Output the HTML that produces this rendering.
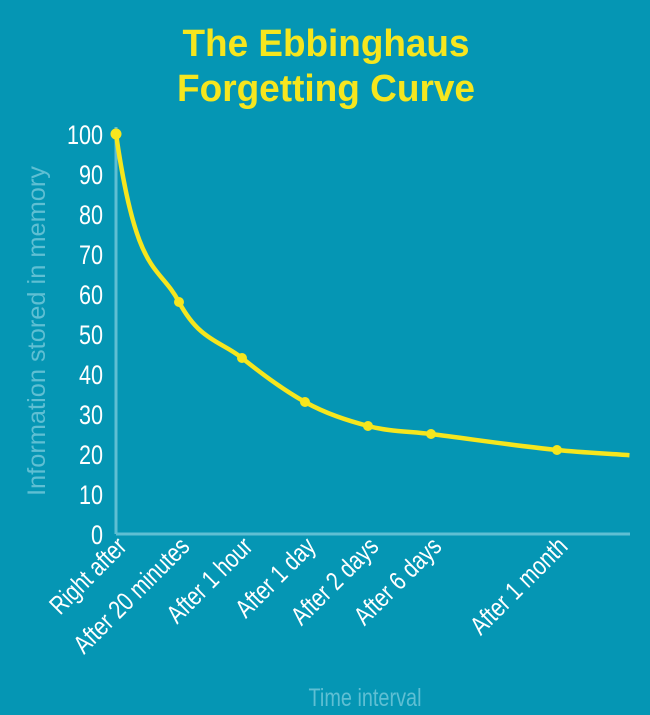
<!DOCTYPE html>
<html><head><meta charset="utf-8"><style>
html,body{margin:0;padding:0;background:#0596b4;}
svg{display:block;font-family:"Liberation Sans",sans-serif;}
</style></head><body>
<svg id="chart" width="650" height="715" viewBox="0 0 650 715">
<rect width="650" height="715" fill="#0596b4"/>
<text x="326" y="56" text-anchor="middle" font-size="38" font-weight="bold" fill="#f6e61e" textLength="287" lengthAdjust="spacingAndGlyphs">The Ebbinghaus</text>
<text x="326" y="101" text-anchor="middle" font-size="38" font-weight="bold" fill="#f6e61e" textLength="298" lengthAdjust="spacingAndGlyphs">Forgetting Curve</text>
<text transform="translate(45,331) rotate(-90)" text-anchor="middle" font-size="25" fill="#5fbfd3" textLength="330" lengthAdjust="spacingAndGlyphs">Information stored in memory</text>
<text x="365" y="706" text-anchor="middle" font-size="25" fill="#5fbfd3" textLength="113" lengthAdjust="spacingAndGlyphs">Time interval</text>
<g id="axes"></g>
<g id="marks"></g>
</svg>
<script>
const categories = ["Right after","After 20 minutes","After 1 hour","After 1 day","After 2 days","After 6 days","After 1 month"];
const positions = [0,1,2,3,4,5,7];
const values = [100,58,44,33,27,25,21];
const tailPosition = 8.15;
const tailValue = 19.7;
const yTicks = [0,10,20,30,40,50,60,70,80,90,100];

const NS="http://www.w3.org/2000/svg";
function xs(p){return 116+p*63.0;}
function ys(v){return 534-4.0*v;}
function mk(tag,attrs,parent){const e=document.createElementNS(NS,tag);for(const k in attrs)e.setAttribute(k,attrs[k]);parent.appendChild(e);return e;}
const axes=document.getElementById('axes'), marks=document.getElementById('marks');

const yAxis=mk('line',{x1:116,y1:127,x2:116,y2:534,stroke:'#5fbfd3','stroke-width':3},axes);


const xAxis=mk('line',{x1:116,y1:534,x2:630,y2:534,stroke:'#5fbfd3','stroke-width':3},axes);



yTicks.forEach(v=>{
  const t=mk('text',{x:103,y:ys(v)+10,'text-anchor':'end','font-size':27,fill:'#ffffff',transform:'translate(103,0) scale(0.8,1) translate(-103,0)'},axes);
  
  
  t.textContent=v;
});
categories.forEach((c,i)=>{
  const x=xs(positions[i])+12, y=548;
  const t=mk('text',{x:x,y:y,'text-anchor':'end','font-size':26,fill:'#ffffff',transform:'rotate(-45 '+x+' '+y+') translate('+x+' 0) scale(0.8,1) translate('+(-x)+' 0)'},axes);
  
  
  t.textContent=c;
});

const P=positions.map((p,i)=>[xs(p),ys(values[i])]).concat([[xs(tailPosition),ys(tailValue)]]);
const n=P.length, d=[], m=[];
for(let i=0;i<n-1;i++)d.push((P[i+1][1]-P[i][1])/(P[i+1][0]-P[i][0]));
m[0]=d[0]*2.6; m[n-1]=d[n-2];
for(let i=1;i<n-1;i++){m[i]=d[i-1]*d[i]<=0?0:(d[i-1]*0.55+d[i]*0.45);}
let path='M'+P[0][0]+','+P[0][1];
for(let i=0;i<n-1;i++){const h=(P[i+1][0]-P[i][0])/3;
  path+=' C'+(P[i][0]+h)+','+(P[i][1]+m[i]*h)+' '+(P[i+1][0]-h)+','+(P[i+1][1]-m[i+1]*h)+' '+P[i+1][0]+','+P[i+1][1];}
const line=mk('path',{d:path,fill:'none',stroke:'#f6e61e','stroke-width':4.5},marks);


positions.forEach((p,i)=>{
  const c=mk('circle',{cx:xs(p),cy:ys(values[i]),r:i===0?5.5:5,fill:'#f6e61e'},marks);
  
  
});
</script>
</body></html>
